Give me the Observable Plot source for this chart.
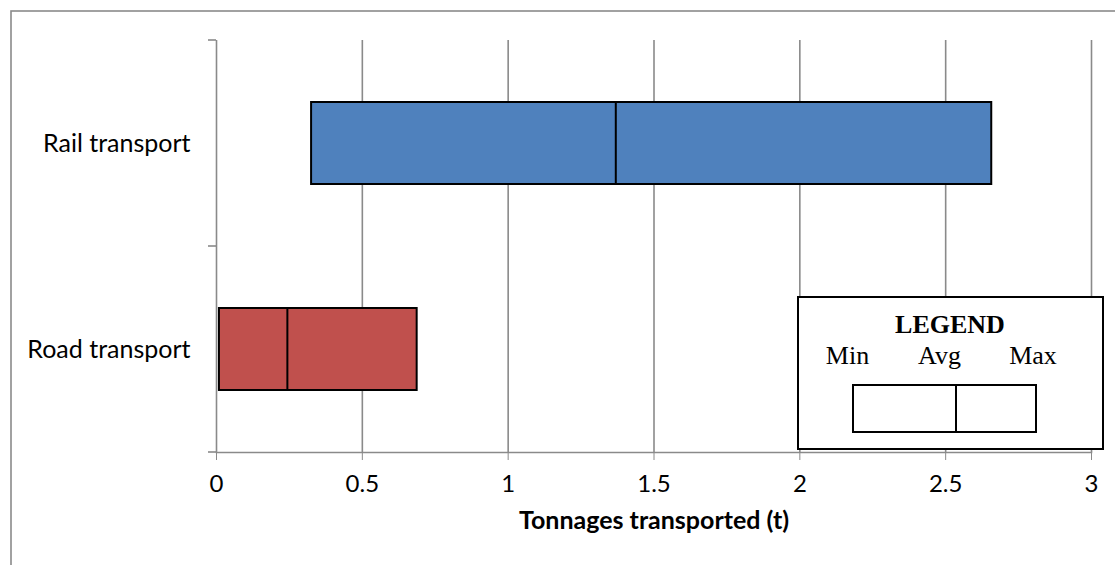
<!DOCTYPE html>
<html>
<head>
<meta charset="utf-8">
<script src="https://cdn.jsdelivr.net/npm/d3@7"></script>
<script src="https://cdn.jsdelivr.net/npm/@observablehq/plot@0.6"></script>
<style>
  html, body { margin: 0; padding: 0; background: #fff; }
  svg { display: block; }
</style>
</head>
<body>
<div id="chart"></div>
<script>
const categories = ["Rail transport", "Road transport"];
const minValues = [0.326, 0.010];
const avgValues = [1.369, 0.243];
const maxValues = [2.658, 0.688];
const barColors = ["#4F81BD", "#C0504D"];
const xTicks = [0, 0.5, 1, 1.5, 2, 2.5, 3];
const axisTitle = "Tonnages transported (t)";
const legendTitle = "LEGEND";
const legendLabels = ["Min", "Avg", "Max"];

const data = categories.map((c, i) => ({
  category: c, min: minValues[i], avg: avgValues[i], max: maxValues[i], color: barColors[i]
}));

const grid = "#8a8a8a";

const plot = Plot.plot({
  width: 1115,
  height: 565,
  marginLeft: 216,
  marginRight: 24,
  marginTop: 40,
  marginBottom: 113,
  style: { fontFamily: "Lato, sans-serif", fontSize: "24px", color: "#000", background: "transparent" },
  x: { domain: [0, 3] },
  y: { domain: categories, paddingInner: 0.6, paddingOuter: 0.3 },
  color: { type: "identity" },
  marks: [
    Plot.ruleX(xTicks.filter(d => d > 0), { stroke: grid, strokeWidth: 1.6 }),
    Plot.ruleX([0], { stroke: grid, strokeWidth: 1.6 }),
    Plot.frame({ anchor: "bottom", stroke: grid, strokeWidth: 1.6 }),
    Plot.barX(data, { x1: "min", x2: "max", y: "category", fill: "color", stroke: "#000", strokeWidth: 2 }),
    Plot.tickX(data, { x: "avg", y: "category", stroke: "#000", strokeWidth: 2 }),
    Plot.axisX({ ticks: xTicks, tickFormat: d => String(d), tickSize: 8, tickPadding: 14, stroke: grid, fill: "#000", label: null, fontSize: 24 }),
    Plot.axisY({ tickSize: 0, tickPadding: 26, label: null, fontSize: 25, fill: "#000" }),
    Plot.text([axisTitle], { text: d => d, frameAnchor: "bottom", dy: 76, fontWeight: "bold", fontSize: 25, fill: "#000" })
  ]
});

document.getElementById("chart").appendChild(plot);

const svg = d3.select(plot);
const ys = plot.scale("y");
const xs = plot.scale("x");
const x0 = xs.apply(0);
const [r0, r1] = ys.range;
const n = categories.length;
const bounds = d3.range(n + 1).map(i => r0 + i * (r1 - r0) / n);

// category-boundary tick marks on the y axis
svg.append("g").selectAll("line").data(bounds).join("line")
  .attr("x1", x0 - 8).attr("x2", x0).attr("y1", d => d).attr("y2", d => d)
  .attr("stroke", grid).attr("stroke-width", 1.6);

// outer chart border (cropped on right and bottom)
svg.insert("rect", ":first-child")
  .attr("x", 11).attr("y", 11).attr("width", 2000).attr("height", 2000)
  .attr("fill", "none").attr("stroke", grid).attr("stroke-width", 1.6);

// legend
const lg = svg.append("g").attr("font-family", "'Liberation Serif', 'Times New Roman', serif").attr("fill", "#000");
lg.append("rect").attr("x", 798).attr("y", 297).attr("width", 305).attr("height", 152)
  .attr("fill", "#fff").attr("stroke", "#000").attr("stroke-width", 2);
lg.append("text").attr("x", 950).attr("y", 333).attr("text-anchor", "middle")
  .attr("font-size", 26).attr("font-weight", "bold").text(legendTitle);
const lx = [847.5, 939.5, 1033];
lg.selectAll("text.lab").data(legendLabels).join("text").attr("class", "lab")
  .attr("x", (d, i) => lx[i]).attr("y", 364).attr("text-anchor", "middle")
  .attr("font-size", 26).text(d => d);
lg.append("rect").attr("x", 853).attr("y", 385).attr("width", 183).attr("height", 47)
  .attr("fill", "#fff").attr("stroke", "#000").attr("stroke-width", 2);
lg.append("line").attr("x1", 956).attr("x2", 956).attr("y1", 385).attr("y2", 432)
  .attr("stroke", "#000").attr("stroke-width", 2);
</script>
</body>
</html>
